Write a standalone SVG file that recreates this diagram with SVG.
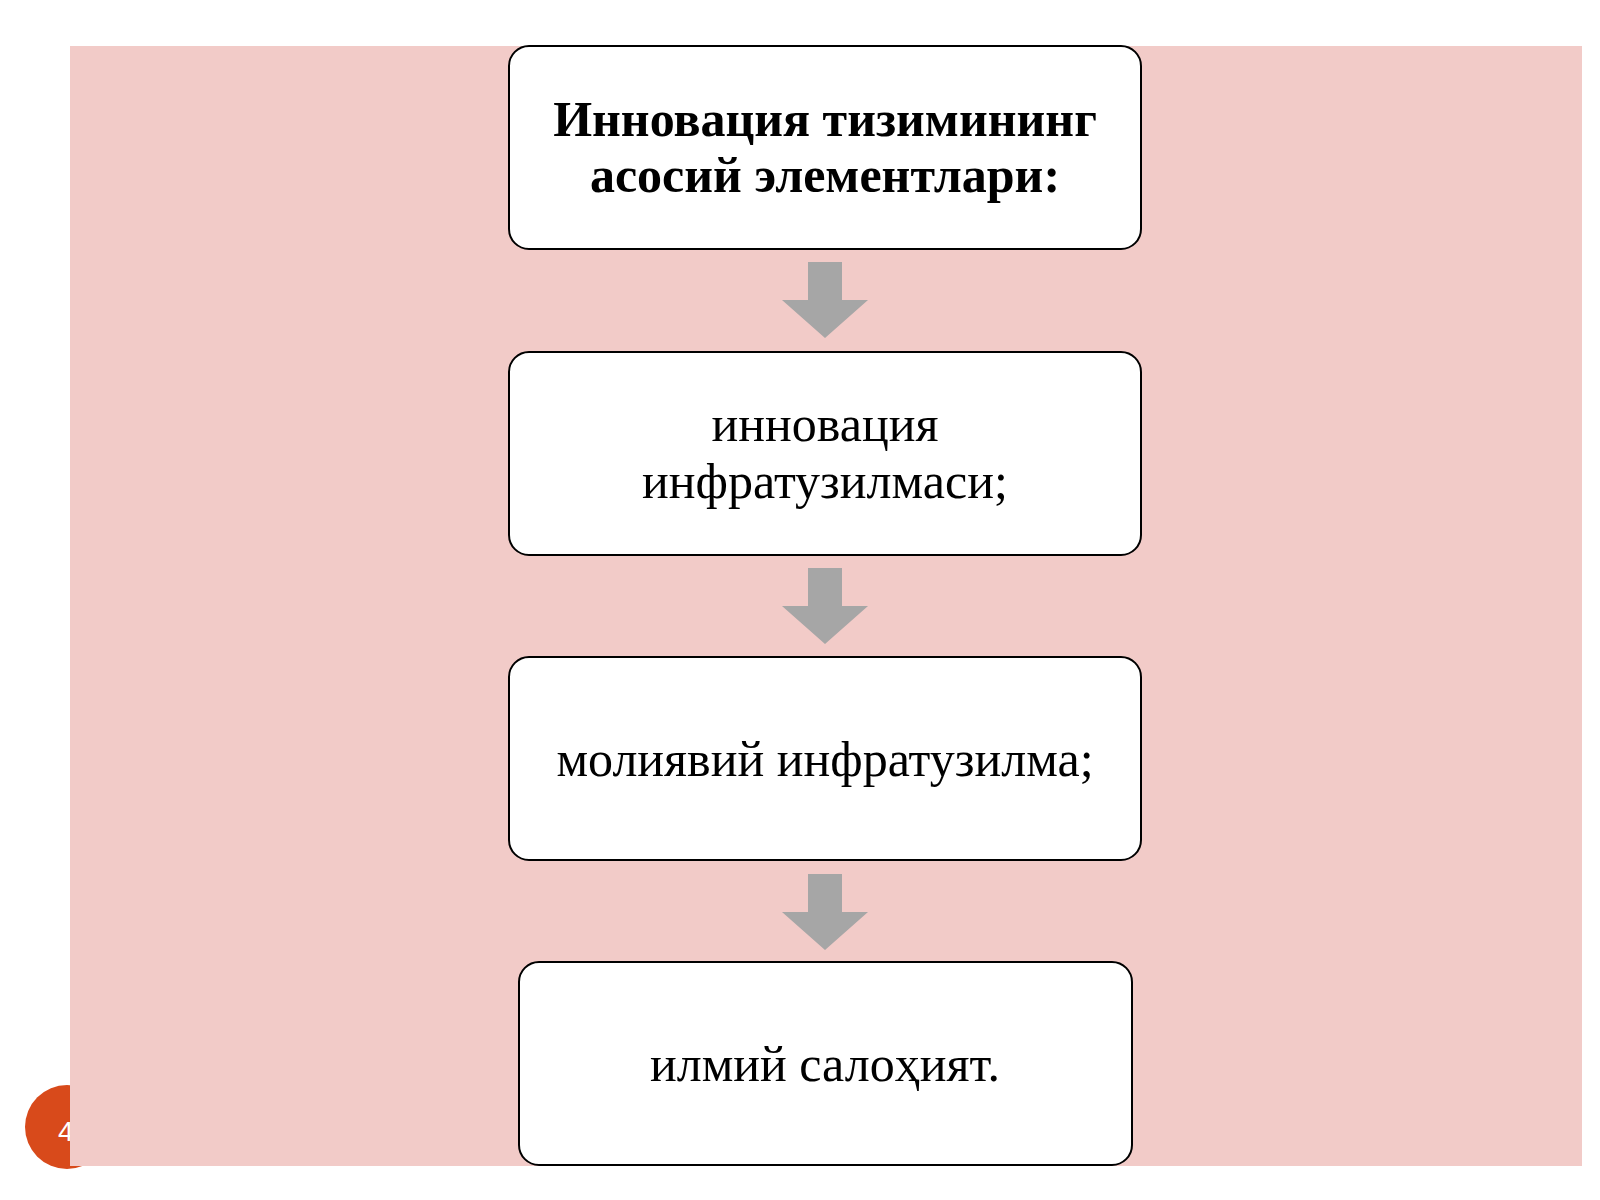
<svg xmlns="http://www.w3.org/2000/svg" width="1600" height="1200" viewBox="0 0 1600 1200">
<defs>
<style>
.box{fill:#fff;stroke:#000;stroke-width:2}
.t{font-family:"Liberation Serif",serif;font-size:50px;text-anchor:middle;fill:#000}
.arr{fill:#a6a6a6}
</style>
</defs>
<rect width="1600" height="1200" fill="#fff"/>
<circle cx="67" cy="1127" r="42" fill="#d84a1b"/>
<text x="58" y="1141" font-family="Liberation Sans,sans-serif" font-size="28" fill="#fff">4</text>
<rect x="70" y="46" width="1512" height="1120" fill="#f2cbc8"/>
<g id="connectors">
<polygon class="arr" points="808,262 842,262 842,300 868,300 825,338 782,300 808,300"/>
<polygon class="arr" points="808,568 842,568 842,606 868,606 825,644 782,606 808,606"/>
<polygon class="arr" points="808,874 842,874 842,912 868,912 825,950 782,912 808,912"/>
</g>
<g id="n1"><rect class="box" x="509" y="46" width="632" height="203" rx="20"/>
<text class="t" x="825" y="136" font-weight="bold">Инновация тизимининг</text>
<text class="t" x="825" y="192" font-weight="bold">асосий элементлари:</text></g>
<g id="n2"><rect class="box" x="509" y="352" width="632" height="203" rx="20"/>
<text class="t" x="825" y="441">инновация</text>
<text class="t" x="825" y="498">инфратузилмаси;</text></g>
<g id="n3"><rect class="box" x="509" y="657" width="632" height="203" rx="20"/>
<text class="t" x="825" y="776">молиявий инфратузилма;</text></g>
<g id="n4"><rect class="box" x="519" y="962" width="613" height="203" rx="20"/>
<text class="t" x="825" y="1081">илмий салоҳият.</text></g>
</svg>
